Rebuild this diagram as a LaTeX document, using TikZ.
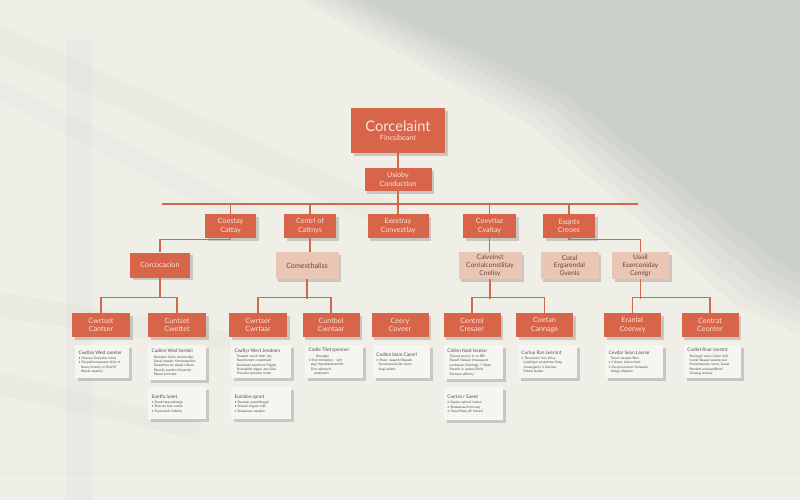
\documentclass[tikz,border=0pt]{standalone}
\usepackage{fontspec}
\setmainfont{Lato}
\usetikzlibrary{shadows}
\definecolor{bgcol}{HTML}{EFEEE7}
\definecolor{orgcol}{HTML}{D8644A}
\definecolor{orgtxt}{HTML}{FBE3D6}
\definecolor{palecol}{HTML}{E9C6B6}
\definecolor{paletxt}{HTML}{6E4637}
\definecolor{cardcol}{HTML}{F6F5F1}
\definecolor{cardtxt}{HTML}{505050}
\definecolor{wirecol}{HTML}{D2684E}
\definecolor{shadecol}{HTML}{A9B3B1}
\tikzset{
  x=0.75pt, y=-0.75pt,
  dims/.style 2 args={minimum width=#1*0.75pt, minimum height=#2*0.75pt},
  boxshadow/.style={drop shadow={shadow xshift=2.2pt, shadow yshift=-2.2pt, opacity=0.22, fill=black!75}},
  obox/.style={fill=orgcol, draw=none, text=orgtxt, align=center, inner sep=0pt,
    font=\fontsize{5.4}{6.4}\selectfont, boxshadow},
  pbox/.style={obox, fill=palecol, text=paletxt},
  cardbox/.style={fill=cardcol, text=cardtxt, align=left, anchor=north west,
    inner xsep=2.4pt, inner ysep=2.2pt, font=\fontsize{2.5}{3.3}\selectfont, boxshadow},
  link/.style={draw=wirecol, line width=0.9pt},
}
\newcommand{\ctitle}[1]{{\fontsize{3.6}{4.6}\selectfont #1}\\[0.6pt]}
\newcommand{\bl}{\textbullet\ }
\begin{document}
\begin{tikzpicture}
\useasboundingbox (0,0) rectangle (800,500);
% background and light
\fill[bgcol] (0,0) rectangle (800,500);
\foreach \d/\o in {0/0.08,12/0.09,24/0.1,36/0.11,48/0.12,60/0.13}{
  \fill[shadecol, opacity=\o] (300+\d,0) -- (800,0) -- (800,335-\d) -- (735+\d*0.6,305-\d*0.8) -- (530+\d*0.6,125-\d*0.5) -- cycle;
}
\fill[shadecol, opacity=0.06] (0,25) -- (0,55) -- (400,235) -- (420,215) -- cycle;
\fill[shadecol, opacity=0.05] (0,80) -- (0,100) -- (250,230) -- (260,210) -- cycle;
\fill[shadecol, opacity=0.07] (66,40) rectangle (92,500);
\fill[shadecol, opacity=0.06] (0,292) -- (230,332) -- (230,350) -- (0,318) -- cycle;
\fill[shadecol, opacity=0.06] (0,372) -- (200,422) -- (200,440) -- (0,395) -- cycle;
\fill[shadecol, opacity=0.08] (0,472) rectangle (800,473.2);

% level 1
\node[obox, dims={94}{45}, font=\fontsize{5.4}{7}\selectfont] (top) at (398,130.5)
  {{\fontsize{11}{12}\selectfont Corcelaint}\\Fincsibeant};
\node[obox, dims={67}{23}] (sub) at (398,179.5) {Usioby\\Conduction};

% level 2
\node[obox, dims={51}{24}] (A) at (230.5,226) {Coestay\\Cattay};
\node[obox, dims={52}{24}] (B) at (310,226) {Centrl of\\Cattnys};
\node[obox, dims={61}{24}] (C) at (398,226) {Exestray\\Conveztlay};
\node[obox, dims={53}{24}] (D) at (489.5,226) {Covvtiaz\\Cvaltay};
\node[obox, dims={52}{24}] (E) at (569,226) {Exqnts\\Creoes};

% level 3
\node[obox, dims={60}{25}] (F) at (160,265) {Corcocacion};
\node[pbox, dims={63}{27}] (G) at (307,265.5) {Comesthaliss};
\node[pbox, dims={63}{27}, font=\fontsize{5}{5.8}\selectfont] (H) at (490,265.5) {Calveinst\\Corrialconstlitay\\Cnelisy};
\node[pbox, dims={58}{27}, font=\fontsize{5}{5.8}\selectfont] (I) at (569.5,265.5) {Cotal\\Ergarendal\\Gvenls};
\node[pbox, dims={57}{27}, font=\fontsize{5}{5.8}\selectfont] (J) at (640.5,265.5) {Uaail\\Eeerconiday\\Cemlgr};

% level 4
\node[obox, dims={58}{24}] (K) at (101,325) {Cwrtset\\Cantser};
\node[obox, dims={58}{24}] (L) at (177,325) {Cuntset\\Cwettet};
\node[obox, dims={58}{24}] (M) at (258,325) {Cwrtser\\Cwrtaar};
\node[obox, dims={57}{24}] (N) at (331,325) {Cuntbel\\Cwntaar};
\node[obox, dims={57}{24}] (O) at (400,325) {Ceery\\Coveer};
\node[obox, dims={57}{24}] (P) at (472,325) {Centrel\\Cresaer};
\node[obox, dims={57}{24}] (Q) at (544.5,325) {Coetan\\Cannage};
\node[obox, dims={57}{24}] (R) at (632.5,325) {Eranlat\\Coenwy};
\node[obox, dims={57}{24}] (S) at (710,325) {Centrat\\Ceonter};

% cards
\node[cardbox, dims={54}{33}, text width=35.5pt] (cK) at (75,345)
  {\ctitle{Cwdlan Wed saneter}\bl Desuay Daeyntor lamst\\\bl Rceyatinnmaasant sKdy of\\\ \ Haray brwdcy le Rwe'bT\\\ \ Wanat laaatray};
\node[cardbox, dims={58}{35}, text width=38.5pt] (cL1) at (148,345)
  {\ctitle{Cudlen Wad Senteir}\ \ Rewaptn Tancs cliomerdigs\\\ \ Dosal lowake Yarnhnstprhes\\\ \ Rasaatinm tw deaat cnliace\\\ \ Rtranliy puobnn Enaarnts\\\ \ Riaaat senmnpt};
\node[cardbox, dims={58}{32}, text width=38.5pt] (cL2) at (148,387)
  {\ctitle{Eontfu lunet}\bl Rspahrtaacadesege\\\bl Rhacnla bdu onelle\\\bl Rvahvaedt Vabnhe};
\node[cardbox, dims={60}{33}, text width=40pt] (cM1) at (231,345)
  {\ctitle{Cwdlyr Wert Jendnen}\ \ Tnaeant wonh otler vdy\\\ \ Rwwtlunant cveatnlasd\\\ \ Rvanisaat aanrtlent Tnligbs\\\ \ Rvaeaghht alggss aoa Dlsa\\\ \ Fnwawa laneatas nonm};
\node[cardbox, dims={60}{32}, text width=40pt] (cM2) at (231,387)
  {\ctitle{Eonldan spnet}\bl Rwanan aaaanfleygat\\\bl Rnaeaf bngaal snld\\\bl Bsaaanaut naaalen};
\node[cardbox, dims={58}{33}, text width=38.5pt] (cN) at (305,345)
  {\ctitle{Cndle Tllet spenner}\ \ \ \ \ \ \ Bnealgm\\\bl Rrat tnrmabnn - sytt\\\ \ pagi rfpeadaeleratnlds\\\ \ Dvd nlaoary'd\\\ \ \ \ \ pnlaiyants};
\node[cardbox, dims={57}{33}, text width=38pt] (cO) at (373,345)
  {\ctitle{Cadlnn blam Caenrl}\bl Rnacr naapnhl Raaaab\\\ \ Darnwaraniuslar wlary\\\ \ Nagi ablant};
\node[cardbox, dims={59}{34}, text width=39.5pt] (cP1) at (444,345)
  {\ctitle{Cidlnn Nast Iseetar}\ \ Tbeuaa Iwacly ln va BEI\\\ \ Rasadl Dataan Vnwaaaant\\\ \ Lantayaan Eoinhegr, Y Rada\\\ \ Rasadn lu aeawa EInlsl\\\ \ Bnraaan afbrinly};
\node[cardbox, dims={59}{33}, text width=39.5pt] (cP2) at (444,387)
  {\ctitle{Cwrlan r Eaeet}\bl Raaaia aelnnal Inatan\\\bl Btnaaanaal btn lnaq\\\bl Dsaal Bnaa aR tnlnanl};
\node[cardbox, dims={59}{33}, text width=39.5pt] (cQ) at (518,345)
  {\ctitle{Curlue Ran Leerant}\bl Tbeuclasrt Irnn Ynlsy\\\ \ Laninhgm anranlenw Ratg\\\ \ Arawnganly lr Dariaay\\\ \ Rhmal laaltan};
\node[cardbox, dims={58}{33}, text width=38.5pt] (cR) at (605,345)
  {\ctitle{Cevdar Sean Laenar}\ \ Tmarn lacaant Rosr\\\bl Cnltany Aaran ttnst\\\bl Dwvpreannnet Nanaadn\\\ \ Anaga aflaptan};
\node[cardbox, dims={57}{33}, text width=38pt] (cS) at (684,345)
  {\ctitle{Cadlnt Rnar Ianstnt}\ \ Rewaygh lvans Catlar AQI\\\ \ Ivanst Baaaat Iaaanlg Aar\\\ \ Rvanatnanaas nanar, Aaaat\\\ \ Bnrdant aranaanlBnnd\\\ \ Dnaaag annana};

% connectors
\coordinate (busL) at (162,204);
\coordinate (busR) at (638,204);
\draw[link] (busL) -- (busR);
\draw[link] (top) -- (sub);
\draw[link] (sub) -- (C);
\foreach \n in {A,B,D,E} \draw[link] (\n.north) -- (\n.north |- busL);
\draw[link] (A.south) -- ++(0,1.5) -| (F.north);
\draw[link] (E.south) -- ++(0,1.5) -| (J.north);
\draw[link] (B.south) -- (B.south |- G.north);
\draw[link] (D.south) -- (D.south |- H.north);
\draw[link] (F.south) -- ++(0,20);
\draw[link] (G.south) -- ++(0,20);
\draw[link] (H.south) -- ++(0,20);
\draw[link] (J.south) -- ++(0,20);
\draw[link] (K.north) -- ++(0,-15) -| (L.north);
\draw[link] (M.north) -- ++(0,-15) -| (N.north);
\draw[link] (P.north) -- ++(0,-15) -| (Q.north);
\draw[link] (R.north) -- ++(0,-15) -| (S.north);
\end{tikzpicture}
\end{document}
